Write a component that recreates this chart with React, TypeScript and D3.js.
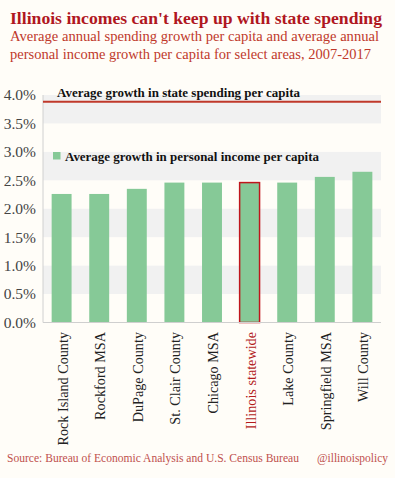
import React from 'react';
import * as d3 from 'd3';

const areas = ['Rock Island County', 'Rockford MSA', 'DuPage County', 'St. Clair County', 'Chicago MSA', 'Illinois statewide', 'Lake County', 'Springfield MSA', 'Will County'];
const incomeGrowth = [2.26, 2.26, 2.35, 2.46, 2.46, 2.46, 2.46, 2.56, 2.65];
const spendingGrowth = 3.88;
const yTicks = [0, 0.5, 1, 1.5, 2, 2.5, 3, 3.5, 4];
const highlight = 'Illinois statewide';

const App = () => {
    const width = 395;
    const height = 478;
    const left = 43;
    const right = 381;
    const top = 95;
    const bottom = 322.5;

    const x = d3.scaleBand()
        .domain(areas)
        .range([left, right])
        .paddingInner(0.47)
        .paddingOuter(0.23);

    const y = d3.scaleLinear()
        .domain([0, 4])
        .range([bottom, top]);

    const serif = '"Liberation Serif", "Times New Roman", serif';
    const bands = yTicks.slice(0, -1).filter((_, i) => i % 2 === 1);
    const fit = {lengthAdjust: 'spacingAndGlyphs'} as any;

    return (
        <svg width={width} height={height} style={{display: 'block', position: 'absolute', left: 0, top: 0, background: '#fffdf8'}}
             fontFamily={serif}>
            <rect x={0} y={0} width={width} height={height} fill="#fffdf8"/>

            {/* title */}
            <text x={10} y={24} fill="#b0171f" fontSize={16.8} fontWeight="bold" textLength={372} {...fit}>Illinois incomes can't keep up with state spending</text>
            <text x={10} y={41} fill="#c0392b" fontSize={14.3} textLength={369} {...fit}>Average annual spending growth per capita and average annual</text>
            <text x={10} y={59} fill="#c0392b" fontSize={14.3} textLength={361} {...fit}>personal income growth per capita for select areas, 2007-2017</text>

            {/* alternating bands */}
            {bands.map(t => (
                <rect key={t} x={left} y={y(t + 0.5)} width={right - left} height={y(t) - y(t + 0.5)} fill="#f1f1f1"/>
            ))}

            {/* y axis */}
            <line x1={left} x2={left} y1={top} y2={bottom} stroke="#d0d0d0"/>
            {yTicks.map(t => (
                <text key={t} x={36} y={y(t)} dy="0.35em" textAnchor="end" fontSize={15.5} fill="#444">
                    {d3.format('.1f')(t)}%
                </text>
            ))}

            {/* bars */}
            {areas.map((a, i) => (
                <rect key={a} x={x(a)} y={y(incomeGrowth[i])} width={x.bandwidth()}
                      height={y(0) - y(incomeGrowth[i])}
                      fill="#86c997"
                      stroke={a === highlight ? '#c0161c' : 'none'}
                      strokeWidth={a === highlight ? 1.5 : 0}/>
            ))}
            <line x1={left} x2={right} y1={bottom} y2={bottom} stroke="#cfcfcf"/>

            {/* x labels */}
            {areas.map(a => {
                const cx = (x(a) ?? 0) + x.bandwidth() / 2;
                return (
                    <text key={a} transform={`translate(${cx + 6},332) rotate(-90)`} textAnchor="end"
                          fontSize={14.2} fill={a === highlight ? '#b31b1b' : '#222'}>{a}</text>
                );
            })}

            {/* spending line */}
            <line x1={left} x2={right} y1={y(spendingGrowth)} y2={y(spendingGrowth)} stroke="#c0392b" strokeWidth={2}/>
            <text x={57} y={97} fontSize={13} fontWeight="bold" fill="#111" textLength={243} {...fit}>Average growth in state spending per capita</text>

            {/* legend */}
            <rect x={53} y={152} width={7.5} height={7.5} fill="#86c997"/>
            <text x={65} y={160.5} fontSize={12.9} fontWeight="bold" fill="#111" textLength={254} {...fit}>Average growth in personal income per capita</text>

            {/* footer */}
            <text x={7} y={462} fontSize={11.8} fill="#c0504d" textLength={292} {...fit}>Source:  Bureau of Economic Analysis and U.S. Census Bureau</text>
            <text x={317} y={462} fontSize={11.8} fill="#c0504d" textLength={71} {...fit}>@illinoispolicy</text>
        </svg>
    );
};

export default App;
